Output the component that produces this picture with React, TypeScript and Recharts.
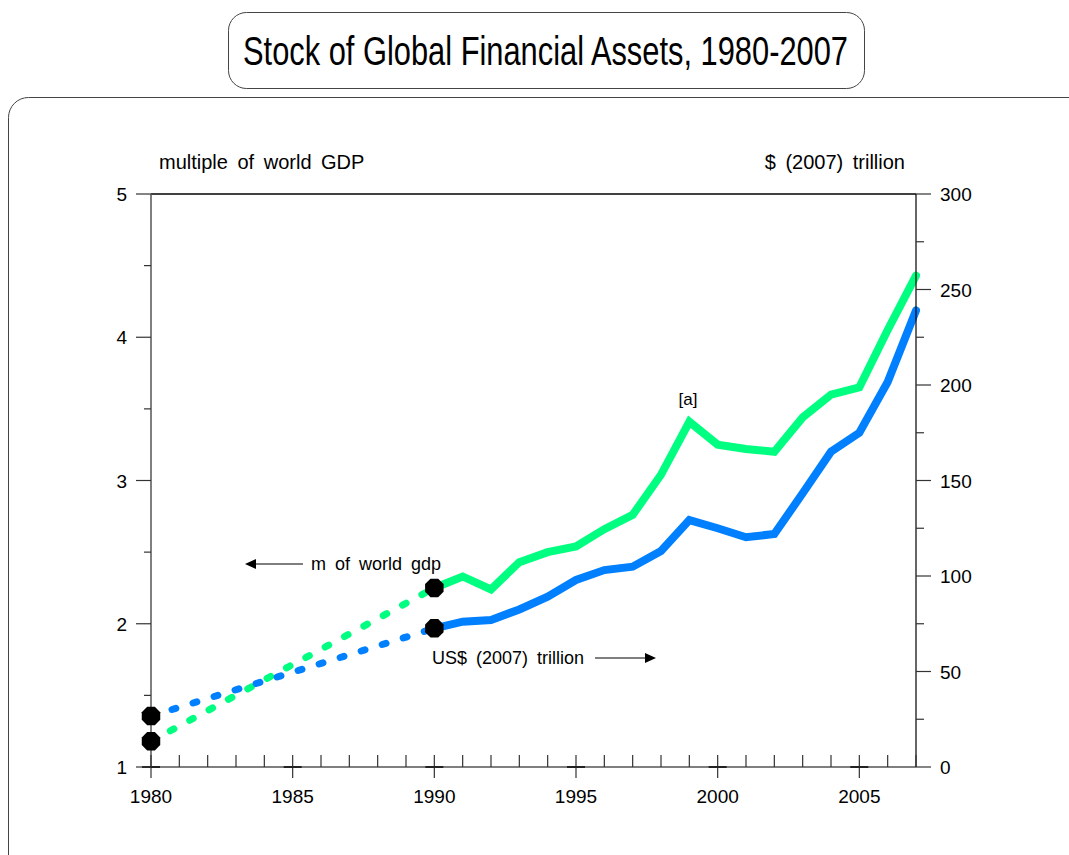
import React from "react";
import {
  ComposedChart,
  Line,
  XAxis,
  YAxis,
  ReferenceLine,
} from "recharts";

const years = [
  1980, 1990, 1991, 1992, 1993, 1994, 1995, 1996, 1997, 1998, 1999, 2000,
  2001, 2002, 2003, 2004, 2005, 2006, 2007,
];
// multiple of world GDP (left axis)
const gdpMultiple = [
  1.18, 2.25, 2.33, 2.24, 2.43, 2.5, 2.54, 2.66, 2.76, 3.04, 3.41, 3.25,
  3.22, 3.2, 3.44, 3.6, 3.65, 4.05, 4.43,
];
// US$ (2007) trillion (right axis)
const trillions = [
  26.7, 72.6, 76.1, 77, 82.5, 89.2, 97.9, 103.1, 104.9, 113.1, 129.3, 125,
  120.3, 122, 143.3, 165.1, 175, 201.6, 239,
];
// only 1980 and 1990 are observed before 1990; drawn dashed between them
const estimatedYears = [1980, 1990];

const xTicks = Array.from({ length: 28 }, (_, i) => 1980 + i);
const xLabels = [1980, 1985, 1990, 1995, 2000, 2005];
const leftTicks = [1, 1.5, 2, 2.5, 3, 3.5, 4, 4.5, 5];
const rightTicks = [0, 25, 50, 75, 100, 125, 150, 175, 200, 225, 250, 275, 300];

const GREEN = "#00ff80";
const BLUE = "#0080ff";
const FONT = "'Liberation Sans', Arial, Helvetica, sans-serif";

const data = xTicks.map((year) => {
  const i = years.indexOf(year);
  const has = i >= 0;
  const est = estimatedYears.includes(year);
  return {
    year,
    gdpSolid: has && year >= 1990 ? gdpMultiple[i] : null,
    usdSolid: has && year >= 1990 ? trillions[i] : null,
    gdpDash: has && est ? gdpMultiple[i] : null,
    usdDash: has && est ? trillions[i] : null,
  };
});

function octagon(cx: number, cy: number, r: number) {
  const pts: string[] = [];
  for (let k = 0; k < 8; k++) {
    const a = ((22.5 + 45 * k) * Math.PI) / 180;
    pts.push(`${cx + r * Math.cos(a)},${cy + r * Math.sin(a)}`);
  }
  return pts.join(" ");
}

const Marker = (props: any) => {
  const { cx, cy, value, index } = props;
  if (value == null || cx == null || cy == null) return <g key={`m-${index}`} />;
  return <polygon key={`m-${index}`} points={octagon(cx, cy, 10)} fill="#000" />;
};

const XTick = ({ x, y, payload }: any) => {
  const v = payload.value;
  const major = v % 5 === 0;
  return (
    <g>
      <line x1={x} x2={x} y1={y - 12} y2={major ? y + 11 : y} stroke="#333" strokeWidth={1.2} />
      {major && <line x1={x - 9} x2={x + 9} y1={y} y2={y} stroke="#222" strokeWidth={2} />}
      {xLabels.includes(v) && (
        <text x={x} y={y + 36} textAnchor="middle" fontSize={19} fontFamily={FONT} fill="#000">
          {v}
        </text>
      )}
    </g>
  );
};

const LeftTick = ({ x, y, payload }: any) => {
  const v = payload.value;
  const major = Number.isInteger(v);
  return (
    <g>
      <line x1={x - (major ? 15 : 7)} x2={x} y1={y} y2={y} stroke="#333" strokeWidth={1.2} />
      {major && (
        <text x={x - 24} y={y + 7} textAnchor="end" fontSize={19} fontFamily={FONT} fill="#000">
          {v}
        </text>
      )}
    </g>
  );
};

const RightTick = ({ x, y, payload }: any) => {
  const v = payload.value;
  const major = v % 50 === 0;
  return (
    <g>
      <line x1={x} x2={x + (major ? 15 : 8)} y1={y} y2={y} stroke="#333" strokeWidth={1.2} />
      {major && (
        <text x={x + 24} y={y + 7} textAnchor="start" fontSize={19} fontFamily={FONT} fill="#000">
          {v}
        </text>
      )}
    </g>
  );
};

export default function App() {
  return (
    <div style={{ position: "absolute", left: 0, top: 0, width: 1069, height: 855, background: "#fff", overflow: "hidden" }}>
      <svg width={1069} height={855} style={{ position: "absolute", left: 0, top: 0 }}>
        <rect x={228.5} y={12.5} width={636} height={76} rx={18} fill="#fff" stroke="#444" />
        <text
          x={243}
          y={65}
          fontSize={41}
          fontFamily={FONT}
          textLength={605}
          lengthAdjust="spacingAndGlyphs"
          fill="#000"
        >
          Stock of Global Financial Assets, 1980-2007
        </text>
        <rect x={8.5} y={97.5} width={1090} height={800} rx={20} fill="none" stroke="#444" />
      </svg>
      <div style={{ position: "absolute", left: 0, top: 0 }}>
        <ComposedChart
          width={1069}
          height={855}
          data={data}
          margin={{ top: 194, right: 103, bottom: 48, left: 101 }}
        >
          <XAxis
            dataKey="year"
            type="number"
            domain={[1980, 2007]}
            ticks={xTicks}
            interval={0}
            height={40}
            tickSize={0}
            tickMargin={0}
            tickLine={false}
            tick={<XTick />}
            axisLine={{ stroke: "#555", strokeWidth: 1.5 }}
          />
          <YAxis
            yAxisId="left"
            orientation="left"
            domain={[1, 5]}
            ticks={leftTicks}
            interval={0}
            width={50}
            tickSize={0}
            tickMargin={0}
            tickLine={false}
            tick={<LeftTick />}
            axisLine={{ stroke: "#555", strokeWidth: 1.5 }}
          />
          <YAxis
            yAxisId="right"
            orientation="right"
            domain={[0, 300]}
            ticks={rightTicks}
            interval={0}
            width={50}
            tickSize={0}
            tickMargin={0}
            tickLine={false}
            tick={<RightTick />}
            axisLine={{ stroke: "#000", strokeWidth: 1.2 }}
          />
          <ReferenceLine yAxisId="left" y={5} stroke="#000" strokeWidth={1.5} />
          <Line
            yAxisId="right"
            dataKey="usdSolid"
            stroke={BLUE}
            strokeWidth={8}
            strokeLinejoin="miter"
            strokeLinecap="round"
            dot={false}
            connectNulls
            isAnimationActive={false}
          />
          <Line
            yAxisId="left"
            dataKey="gdpSolid"
            stroke={GREEN}
            strokeWidth={8}
            strokeLinejoin="miter"
            strokeLinecap="round"
            dot={false}
            connectNulls
            isAnimationActive={false}
          />
          <Line
            yAxisId="left"
            dataKey="gdpDash"
            stroke={GREEN}
            strokeWidth={7}
            strokeDasharray="4 18"
            strokeLinecap="round"
            dot={Marker}
            connectNulls
            isAnimationActive={false}
          />
          <Line
            yAxisId="right"
            dataKey="usdDash"
            stroke={BLUE}
            strokeWidth={7}
            strokeDasharray="4 18"
            strokeLinecap="round"
            dot={Marker}
            connectNulls
            isAnimationActive={false}
          />
        </ComposedChart>
      </div>
      <svg width={1069} height={855} style={{ position: "absolute", left: 0, top: 0, pointerEvents: "none" }}>
        <g fontFamily={FONT} fill="#000">
          <text x={159} y={169} fontSize={20} style={{ wordSpacing: 4 }}>multiple of world GDP</text>
          <text x={905} y={169} fontSize={20} textAnchor="end" style={{ wordSpacing: 4 }}>$ (2007) trillion</text>
          <text x={311} y={570} fontSize={18} style={{ wordSpacing: 4 }}>m of world gdp</text>
          <text x={432} y={664} fontSize={18} style={{ wordSpacing: 4 }}>US$ (2007) trillion</text>
          <text x={688} y={405} textAnchor="middle" fontSize={17}>[a]</text>
        </g>
        <line x1={253} x2={303} y1={564} y2={564} stroke="#000" strokeWidth={1.2} />
        <polygon points="245,564 256,559 256,569" fill="#000" />
        <line x1={595} x2={648} y1={658} y2={658} stroke="#000" strokeWidth={1.2} />
        <polygon points="656,658 645,653 645,663" fill="#000" />
      </svg>
    </div>
  );
}
